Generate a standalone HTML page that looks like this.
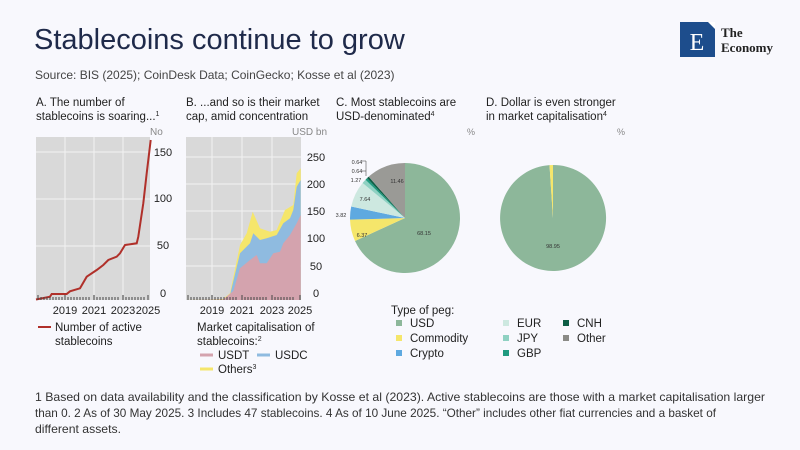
<!DOCTYPE html>
<html><head><meta charset="utf-8"><style>
body{margin:0;background:#f8f8fd;}
svg{display:block;font-family:"Liberation Sans",sans-serif;}
</style></head><body>
<svg width="800" height="450" viewBox="0 0 800 450">
<rect width="800" height="450" fill="#f8f8fd"/>
<text x="34" y="49" font-size="29" fill="#1f2a4a">Stablecoins continue to grow</text>
<text x="35" y="79" font-size="12" fill="#444">Source:  BIS (2025); CoinDesk Data; CoinGecko; Kosse et al (2023)</text>
<!-- logo -->
<rect x="680" y="22" width="35" height="35" fill="#1d4d8c"/>
<polygon points="708,22 715,22 715,29" fill="#fff"/>
<text x="697" y="50" font-family="Liberation Serif,serif" font-size="24" fill="#fff" text-anchor="middle">E</text>
<text x="721" y="37" font-family="Liberation Serif,serif" font-size="13" font-weight="bold" fill="#222">The</text>
<text x="721" y="52" font-family="Liberation Serif,serif" font-size="13" font-weight="bold" fill="#222">Economy</text>

<g font-size="11.5" fill="#222">
<text x="36" y="106">A. The number of</text>
<text x="36" y="120">stablecoins is soaring...<tspan font-size="7" dy="-4">1</tspan></text>
<text x="186" y="106">B. ...and so is their market</text>
<text x="186" y="120">cap, amid concentration</text>
<text x="336" y="106">C. Most stablecoins are</text>
<text x="336" y="120">USD-denominated<tspan font-size="7" dy="-4">4</tspan></text>
<text x="486" y="106">D. Dollar is even stronger</text>
<text x="486" y="120">in market capitalisation<tspan font-size="7" dy="-4">4</tspan></text>
</g>
<text x="150" y="135" font-size="10" fill="#888">No</text>
<text x="292" y="135" font-size="10" fill="#888">USD bn</text>
<text x="467" y="135" font-size="9" fill="#888">%</text>
<text x="617" y="135" font-size="9" fill="#888">%</text>

<!-- Panel A -->
<rect x="36" y="137" width="114" height="163" fill="#d9d9d9"/>
<g stroke="#f2f2f2" stroke-width="1">
<line x1="36" y1="152" x2="150" y2="152"/><line x1="36" y1="199" x2="150" y2="199"/><line x1="36" y1="246" x2="150" y2="246"/>
<line x1="65" y1="137" x2="65" y2="300"/><line x1="94" y1="137" x2="94" y2="300"/><line x1="123" y1="137" x2="123" y2="300"/>
</g>
<g font-size="11" fill="#222" text-anchor="middle">
<text x="163" y="156">150</text><text x="163" y="202">100</text><text x="163" y="249">50</text><text x="163" y="297">0</text>
<text x="65" y="314">2019</text><text x="94" y="314">2021</text><text x="123" y="314">2023</text><text x="148" y="314">2025</text>
</g>
<path d="M36,299.5 L50,296.7 L51.7,294 L66.7,294 L70,291.3 L80,288.3 L86.7,276.7 L96.7,270 L103.3,265 L108.3,260 L116.7,256.7 L120,253.3 L125,245 L136.7,243.3 L138.3,236.7 L143.3,203.3 L146.7,173.3 L150.7,140" fill="none" stroke="#b0302a" stroke-width="2"/>
<g stroke="#444" stroke-width="1">
<path d="M38,300v-5M41,300v-3M44,300v-3M47,300v-3M50,300v-3M53,300v-3M56,300v-3M59,300v-3M62,300v-3M65,300v-5M68,300v-3M71,300v-3M74,300v-3M77,300v-3M80,300v-3M83,300v-3M86,300v-3M89,300v-3M94,300v-5M97,300v-3M100,300v-3M103,300v-3M106,300v-3M109,300v-3M112,300v-3M115,300v-3M118,300v-3M123,300v-5M126,300v-3M129,300v-3M132,300v-3M135,300v-3M138,300v-3M141,300v-3M144,300v-3M148,300v-5"/>
</g>
<line x1="38" y1="327" x2="51" y2="327" stroke="#b0302a" stroke-width="2"/>
<text x="55" y="331" font-size="11.5" fill="#222">Number of active</text>
<text x="55" y="345" font-size="11.5" fill="#222">stablecoins</text>

<!-- Panel B -->
<rect x="186" y="137" width="115" height="163" fill="#d9d9d9"/>
<g stroke="#f2f2f2" stroke-width="1">
<line x1="186" y1="157" x2="301" y2="157"/><line x1="186" y1="184" x2="301" y2="184"/><line x1="186" y1="211" x2="301" y2="211"/><line x1="186" y1="239" x2="301" y2="239"/><line x1="186" y1="266" x2="301" y2="266"/>
<line x1="212" y1="137" x2="212" y2="300"/><line x1="242" y1="137" x2="242" y2="300"/><line x1="272" y1="137" x2="272" y2="300"/>
</g>
<path d="M186,300 L223,299 L230,293.3 L240,245 L246.7,233.3 L252.7,211.7 L260,228.3 L270,231.7 L276.7,230 L285,210 L293.3,205 L296.7,173.3 L300.7,168.3 L300.7,300Z" fill="#f5e66b"/>
<path d="M186,300 L223,299.5 L230,295 L240,253.3 L250,243.3 L253.3,233.3 L260,240 L266.7,238.3 L276.7,235 L283.3,223.3 L290,218.3 L293.3,210 L296.7,186.7 L300.7,180 L300.7,300Z" fill="#8fbbe0"/>
<path d="M186,300 L223.3,299.5 L233.3,291 L240,268.3 L250,260 L256.7,255 L260,263.3 L266.7,263.3 L273.3,253.3 L280,251.7 L283.3,243.3 L290,235 L296.7,223.3 L300.7,215 L300.7,300Z" fill="#d4a3ae"/>
<g font-size="11" fill="#222" text-anchor="middle">
<text x="316" y="161">250</text><text x="316" y="188">200</text><text x="316" y="215">150</text><text x="316" y="242">100</text><text x="316" y="270">50</text><text x="316" y="297">0</text>
<text x="212" y="314">2019</text><text x="242" y="314">2021</text><text x="272" y="314">2023</text><text x="300" y="314">2025</text>
</g>
<g stroke="#444" stroke-width="1">
<path d="M188,300v-5M191,300v-3M194,300v-3M197,300v-3M200,300v-3M203,300v-3M206,300v-3M209,300v-3M212,300v-5M215,300v-3M218,300v-3M221,300v-3M224,300v-3M227,300v-3M230,300v-3M233,300v-3M236,300v-3M242,300v-5M245,300v-3M248,300v-3M251,300v-3M254,300v-3M257,300v-3M260,300v-3M263,300v-3M266,300v-3M272,300v-5M275,300v-3M278,300v-3M281,300v-3M284,300v-3M287,300v-3M290,300v-3M293,300v-3M300,300v-5"/>
</g>
<g font-size="11.5" fill="#222">
<text x="197" y="331">Market capitalisation of</text>
<text x="197" y="345">stablecoins:<tspan font-size="7" dy="-4">2</tspan></text>
<text x="218" y="359">USDT</text><text x="275" y="359">USDC</text>
<text x="218" y="373">Others<tspan font-size="7" dy="-4">3</tspan></text>
</g>
<line x1="200" y1="355" x2="213" y2="355" stroke="#d4a3ae" stroke-width="3"/>
<line x1="257" y1="355" x2="270" y2="355" stroke="#8fbbe0" stroke-width="3"/>
<line x1="200" y1="369" x2="213" y2="369" stroke="#f5e66b" stroke-width="3"/>

<!-- Pie C -->
<path d="M405,218 L405,163 A55,55 0 1,1 355.02,240.95Z" fill="#8db79a"/>
<path d="M405,218 L355.02,240.95 A55,55 0 0,1 350.03,219.66Z" fill="#f5e66b"/>
<path d="M405,218 L350.03,219.66 A55,55 0 0,1 351.21,206.54Z" fill="#5ea9e0"/>
<path d="M405,218 L351.21,206.54 A55,55 0 0,1 362.59,182.98Z" fill="#cde8e0"/>
<path d="M405,218 L362.59,182.98 A55,55 0 0,1 365.50,179.73Z" fill="#8fd1c2"/>
<path d="M405,218 L365.50,179.73 A55,55 0 0,1 367.07,178.17Z" fill="#1f9a7f"/>
<path d="M405,218 L367.07,178.17 A55,55 0 0,1 368.70,176.68Z" fill="#0d5e45"/>
<path d="M405,218 L368.70,176.68 A55,55 0 0,1 405,163Z" fill="#9a9a96"/>
<g font-size="5.5" fill="#333" text-anchor="middle">
<text x="424" y="235">68.15</text><text x="362" y="237">6.37</text><text x="341" y="217">3.82</text>
<text x="365" y="201">7.64</text><text x="356" y="182">1.27</text><text x="357" y="164">0.64</text><text x="357" y="173">0.64</text>
<text x="397" y="183">11.46</text>
</g>
<path d="M362,161 H366 V176 M362,171 H366" fill="none" stroke="#333" stroke-width="0.5"/>

<!-- Pie D -->
<path d="M553,218 L553,165 A53,53 0 1,1 549.51,165.12Z" fill="#8db79a"/>
<path d="M553,218 L549.51,165.12 A53,53 0 0,1 553,165Z" fill="#f5e66b"/>
<text x="553" y="248" font-size="5.5" fill="#333" text-anchor="middle">98.95</text>

<!-- legend -->
<g font-size="11.5" fill="#222">
<text x="391" y="314">Type of peg:</text>
<rect x="396" y="320" width="6" height="6" fill="#8db79a"/><text x="410" y="327">USD</text>
<rect x="396" y="335" width="6" height="6" fill="#f5e66b"/><text x="410" y="342">Commodity</text>
<rect x="396" y="350" width="6" height="6" fill="#5ea9e0"/><text x="410" y="357">Crypto</text>
<rect x="503" y="320" width="6" height="6" fill="#cde8e0"/><text x="517" y="327">EUR</text>
<rect x="503" y="335" width="6" height="6" fill="#8fd1c2"/><text x="517" y="342">JPY</text>
<rect x="503" y="350" width="6" height="6" fill="#1f9a7f"/><text x="517" y="357">GBP</text>
<rect x="563" y="320" width="6" height="6" fill="#0d5e45"/><text x="577" y="327">CNH</text>
<rect x="563" y="335" width="6" height="6" fill="#8a8a86"/><text x="577" y="342">Other</text>
</g>

<!-- footnote -->
<g font-size="12" fill="#333">
<text x="35" y="401" textLength="730" lengthAdjust="spacingAndGlyphs">1 Based on data availability and the  classification by Kosse et al (2023). Active stablecoins are those with a market capitalisation larger</text>
<text x="35" y="417" textLength="681" lengthAdjust="spacingAndGlyphs">than 0. 2 As of 30 May 2025. 3 Includes 47 stablecoins. 4 As of 10 June 2025. “Other” includes other fiat currencies and a basket of</text>
<text x="35" y="433" textLength="86" lengthAdjust="spacingAndGlyphs">different assets.</text>
</g>
</svg>
</body></html>
